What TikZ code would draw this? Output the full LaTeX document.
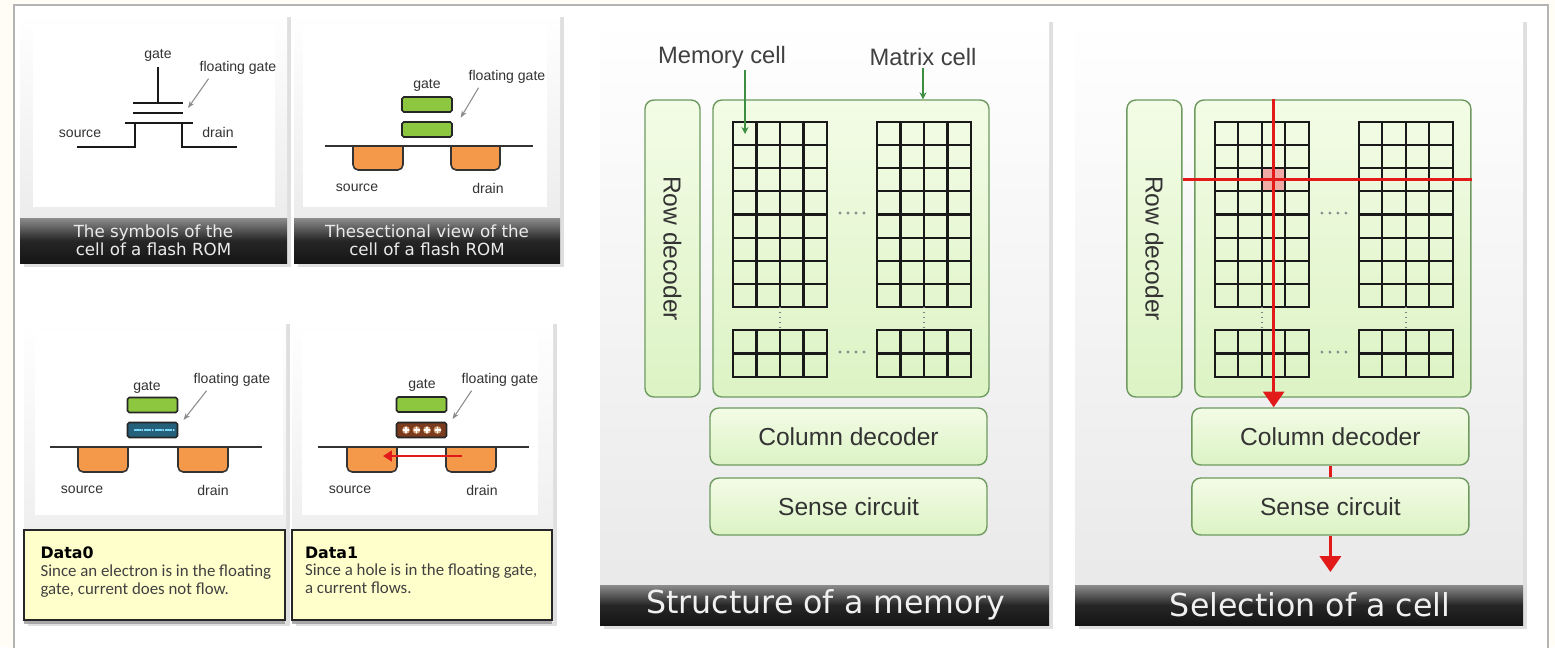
\documentclass[tikz,border=0pt]{standalone}
\usepackage{fontspec}
\setmainfont{Liberation Sans}
\newfontfamily\capfont{DejaVu Sans}
\newfontfamily\notefont{Carlito}
\usetikzlibrary{arrows.meta,shadows,calc}

\definecolor{paper}{HTML}{FFFDF6}
\definecolor{framegray}{HTML}{B4B4B4}
\definecolor{celltop}{HTML}{F3FCE6}
\definecolor{cellbot}{HTML}{DCF3C4}
\definecolor{cellline}{HTML}{6E9A60}
\definecolor{gatefill}{HTML}{8DC63F}
\definecolor{wellfill}{HTML}{F4994A}
\definecolor{elecfill}{HTML}{24607A}
\definecolor{holefill}{HTML}{7A3B1E}
\definecolor{notefill}{HTML}{FFFFCC}
\definecolor{selred}{HTML}{E21A1A}
\definecolor{labgreen}{HTML}{3E8E41}

\tikzset{
  card/.style={top color=white, bottom color=black!9,
    drop shadow={shadow xshift=2pt, shadow yshift=-2pt, opacity=0.25}},
  capbar/.style={top color=black!45, bottom color=black!92, middle color=black!85},
  captext/.style={text=black!8, align=center, inner sep=0pt,
    font=\capfont\fontsize{9.5}{10.5}\selectfont},
  bigcap/.style={text=black!6, inner sep=0pt, font=\capfont\fontsize{18}{20}\selectfont},
  lbl/.style={text=black!80, inner sep=1pt, font=\fontsize{8}{9}\selectfont},
  sym/.style={black!90, line width=1.1pt},
  fgarrow/.style={draw=black!45, line width=0.6pt, -{Stealth[length=4pt,width=3pt]}},
  gaterect/.style={draw=black!85, line width=0.9pt, fill=gatefill, rounded corners=1pt,
    minimum width=1cm, minimum height=0.3cm, inner sep=0pt},
  well/.style={draw=black!80, line width=0.9pt, fill=wellfill, rounded corners=3pt},
  substrate/.style={black!80, line width=1.1pt},
  notebox/.style={draw=black!85, line width=1.6pt, fill=notefill,
    drop shadow={shadow xshift=0pt, shadow yshift=-2pt, opacity=0.6}},
  notetext/.style={anchor=north west, align=left, inner sep=0pt, text=black!75,
    font=\notefont\fontsize{9.6}{10.2}\selectfont},
  blk/.style={draw=cellline, line width=0.8pt, rounded corners=5pt,
    top color=celltop, bottom color=cellbot, inner sep=0pt, text=black!80,
    font=\fontsize{14}{16}\selectfont},
  blktext/.style={text=black!80, inner sep=0pt, font=\fontsize{14}{16}\selectfont},
  memlbl/.style={text=black!75, inner sep=1pt, font=\fontsize{13.5}{15}\selectfont},
  labarrow/.style={draw=labgreen, line width=1.1pt, -{Stealth[length=4pt,width=4pt]}},
  gridline/.style={black!90, line width=1.2pt, line cap=rect},
  sel/.style={selred, line width=1.7pt},
  selarrow/.style={selred, line width=1.7pt, -{Triangle[width=12pt,length=9pt]}}
}

\begin{document}
\begin{tikzpicture}[x=0.02cm, y=-0.02cm]
  \useasboundingbox (0,0) rectangle (1555,647);
  \fill[paper] (0,0) rectangle (1555,647);
  \draw[framegray, fill=white, line width=1pt] (14,5) rectangle (1548,660);

  % symbol of the cell
  \fill[card] (20,13) rectangle (287,263);
  \fill[white] (33,25) rectangle (275,207);
  \fill[capbar] (20,218) rectangle (287,263);
  \node[captext] (cap1) at (153.5,240.5) {The symbols of the\\cell of a flash ROM};
  \node[lbl] (gate1) at (158,55) {gate};
  \draw[sym] (158,67) -- (158,103);
  \draw[sym] (133,103) -- (183,103);
  \draw[sym] (133,113) -- (183,113);
  \draw[sym] (125,123) -- (193,123);
  \draw[sym] (77,147) -- (135,147) -- (135,123);
  \draw[sym] (237,147) -- (182,147) -- (182,123);
  \node[lbl] (src1) at (80,134) {source};
  \node[lbl] (drn1) at (218,132) {drain};
  \node[lbl] (fg1) at (238,68) {floating gate};
  \coordinate (fgtip1) at (188,108);
  \draw[fgarrow] ($(fg1.south west)+(11,2)$) -- (fgtip1);

  % cross section
  \fill[card] (294,13) rectangle (560,263);
  \fill[white] (303,25) rectangle (547,207);
  \fill[capbar] (294,218) rectangle (560,263);
  \node[captext] (cap2) at (427,240.5) {Thesectional view of the\\cell of a flash ROM};
  \draw[well] (353,146) -- (353,170) -- (403,170) -- (403,146);
  \draw[well] (451,146) -- (451,170) -- (500,170) -- (500,146);
  \draw[substrate] (325,146) -- (533,146);
  \node[gaterect] (gate2) at (427,104.5) {};
  \node[gaterect] (fgate2) at (427,129.5) {};
  \node[lbl] (gl2) at (427,85) {gate};
  \node[lbl] (src2) at (357,188) {source};
  \node[lbl] (drn2) at (488,188) {drain};
  \node[lbl] (fg2) at (507,77) {floating gate};
  \draw[fgarrow] ($(fg2.south west)+(12,2)$) -- ([xshift=4.5pt,yshift=2pt]fgate2.north east);

  % data0: electron in the floating gate
  \fill[card] (24,320) rectangle (286,622);
  \fill[white] (35,330) rectangle (283,515);
  \draw[well] (78,447) -- (78,472) -- (128,472) -- (128,447);
  \draw[well] (178,447) -- (178,472) -- (228,472) -- (228,447);
  \draw[substrate] (50,447) -- (262,447);
  \node[gaterect] (gate3) at (152.5,405) {};
  \node[gaterect, fill=elecfill] (fgate3) at (152.5,430) {};
  \foreach \x in {137,147.5,158,168.5} {
    \draw[cyan!55!white, line width=1.4pt] (\x-3.5,430) -- (\x+3.5,430);
    \fill[cyan!30!white] (\x+5.2,430) circle (0.6pt);
  }
  \node[lbl] (gl3) at (147,387) {gate};
  \node[lbl] (src3) at (82,490) {source};
  \node[lbl] (drn3) at (213,490) {drain};
  \node[lbl] (fg3) at (232,380) {floating gate};
  \draw[fgarrow] ($(fg3.south west)+(15,2)$) -- ([xshift=3pt,yshift=1pt]fgate3.north east);
  \node[notebox, minimum width=5.22cm, minimum height=1.8cm] (note0) at (154.5,575) {};
  \node[notetext] (note0txt) at ([xshift=10pt,yshift=-10pt]note0.north west)
    {{\capfont\bfseries\fontsize{9}{10.2}\selectfont\color{black}Data0}\\
     Since an electron is in the floating\\gate, current does not flow.};

  % data1: hole in the floating gate
  \fill[card] (292,320) rectangle (553,622);
  \fill[white] (302,330) rectangle (538,515);
  \draw[well] (347,447) -- (347,472) -- (397,472) -- (397,447);
  \draw[well] (446,447) -- (446,472) -- (496,472) -- (496,447);
  \draw[substrate] (318,447) -- (529,447);
  \node[gaterect] (gate4) at (421.5,404.5) {};
  \node[gaterect, fill=holefill] (fgate4) at (421.5,430) {};
  \foreach \x in {406,416.5,427,437.5} {
    \fill[orange!35, opacity=0.7] (\x,430) circle (2.2pt);
    \draw[white, line width=0.9pt] (\x-3,430) -- (\x+3,430);
    \draw[white, line width=0.9pt] (\x,427) -- (\x,433);
  }
  \coordinate (i4d) at (462,456);
  \coordinate (i4s) at (383,456);
  \draw[selred, line width=1.4pt, -{Triangle[width=6pt,length=5pt]}] (i4d) -- (i4s);
  \node[lbl] (gl4) at (422,385) {gate};
  \node[lbl] (src4) at (350,490) {source};
  \node[lbl] (drn4) at (482,490) {drain};
  \node[lbl] (fg4) at (500,380) {floating gate};
  \draw[fgarrow] ($(fg4.south west)+(12,2)$) -- ([xshift=3pt,yshift=1.5pt]fgate4.north east);
  \node[notebox, minimum width=5.2cm, minimum height=1.8cm] (note1) at (422,575) {};
  \node[notetext] (note1txt) at ([xshift=8pt,yshift=-10pt]note1.north west)
    {{\capfont\bfseries\fontsize{9}{10.2}\selectfont\color{black}Data1}\\
     Since a hole is in the floating gate,\\a current flows.};

  % structure of a memory
  \fill[card] (600,18) rectangle (1049,625);
  \fill[capbar] (600,585) rectangle (1049,625);
  \node[bigcap] (cap3) at (826,605) {Structure of a memory};
  \node[blk, minimum width=1.1cm, minimum height=5.94cm] (rowdecA) at (672.5,248.5) {};
  \node[blktext, rotate=-90] (rowdecAtxt) at (rowdecA.center) {Row decoder};
  \node[blk, minimum width=5.52cm, minimum height=5.94cm] (matrixA) at (851,248.5) {};
  \node[blk, minimum width=5.54cm, minimum height=1.14cm] (coldecA) at (848.5,436.5) {Column decoder};
  \node[blk, minimum width=5.54cm, minimum height=1.14cm] (senseA) at (848.5,506.5) {Sense circuit};
  \foreach \gx in {733,877} {
    \foreach \i in {0,...,4} \draw[gridline] (\gx+23.5*\i,122) -- (\gx+23.5*\i,307);
    \foreach \j in {0,...,8} \draw[gridline] (\gx,122+23.125*\j) -- (\gx+94,122+23.125*\j);
    \foreach \i in {0,...,4} \draw[gridline] (\gx+23.5*\i,330) -- (\gx+23.5*\i,377);
    \foreach \j in {0,1,2} \draw[gridline] (\gx,330+23.5*\j) -- (\gx+94,330+23.5*\j);
    \draw[black!50, dotted, line width=0.8pt] (\gx+47,307) -- (\gx+47,330);
  }
  \foreach \k in {0,...,3} {
    \fill[black!45] (840+8*\k,213) circle (0.9pt);
    \fill[black!45] (840+8*\k,352) circle (0.9pt);
  }
  \node[memlbl] (memcell) at (722,57) {Memory cell};
  \node[memlbl] (matcell) at (923,57) {Matrix cell};
  \coordinate (celltip) at (745,134);
  \draw[labarrow] (memcell.south -| celltip) -- (celltip);
  \draw[labarrow] (matcell.south) -- (matcell.south |- matrixA.north);

  % selection of a cell
  \fill[card] (1075,18) rectangle (1523,625);
  \fill[capbar] (1075,585) rectangle (1523,625);
  \node[bigcap] (cap4) at (1310,605) {Selection of a cell};
  \begin{scope}[xshift=9.64cm]
    \node[blk, minimum width=1.1cm, minimum height=5.94cm] (rowdecB) at (672.5,248.5) {};
    \node[blktext, rotate=-90] (rowdecBtxt) at (rowdecB.center) {Row decoder};
    \node[blk, minimum width=5.52cm, minimum height=5.94cm] (matrixB) at (851,248.5) {};
    \node[blk, minimum width=5.54cm, minimum height=1.14cm] (coldecB) at (848.5,436.5) {Column decoder};
    \node[blk, minimum width=5.54cm, minimum height=1.14cm] (senseB) at (848.5,506.5) {Sense circuit};
    \fill[selred!45, opacity=0.8] (780,168.25) rectangle (803.5,191.4);
    \foreach \gx in {733,877} {
      \foreach \i in {0,...,4} \draw[gridline] (\gx+23.5*\i,122) -- (\gx+23.5*\i,307);
      \foreach \j in {0,...,8} \draw[gridline] (\gx,122+23.125*\j) -- (\gx+94,122+23.125*\j);
      \foreach \i in {0,...,4} \draw[gridline] (\gx+23.5*\i,330) -- (\gx+23.5*\i,377);
      \foreach \j in {0,1,2} \draw[gridline] (\gx,330+23.5*\j) -- (\gx+94,330+23.5*\j);
      \draw[black!50, dotted, line width=0.8pt] (\gx+47,307) -- (\gx+47,330);
    }
    \foreach \k in {0,...,3} {
      \fill[black!45] (840+8*\k,213) circle (0.9pt);
      \fill[black!45] (840+8*\k,352) circle (0.9pt);
    }
    \coordinate (selcell) at (791.75,179.8);
    \draw[sel] (rowdecB.east |- selcell) -- (matrixB.east |- selcell);
    \draw[selarrow] (selcell |- matrixB.north) -- (selcell |- coldecB.north);
    \draw[sel] (coldecB.south) -- (senseB.north);
    \coordinate (senseout) at (848.5,572);
    \draw[selarrow] (senseB.south) -- (senseout);
  \end{scope}
\end{tikzpicture}
\end{document}
